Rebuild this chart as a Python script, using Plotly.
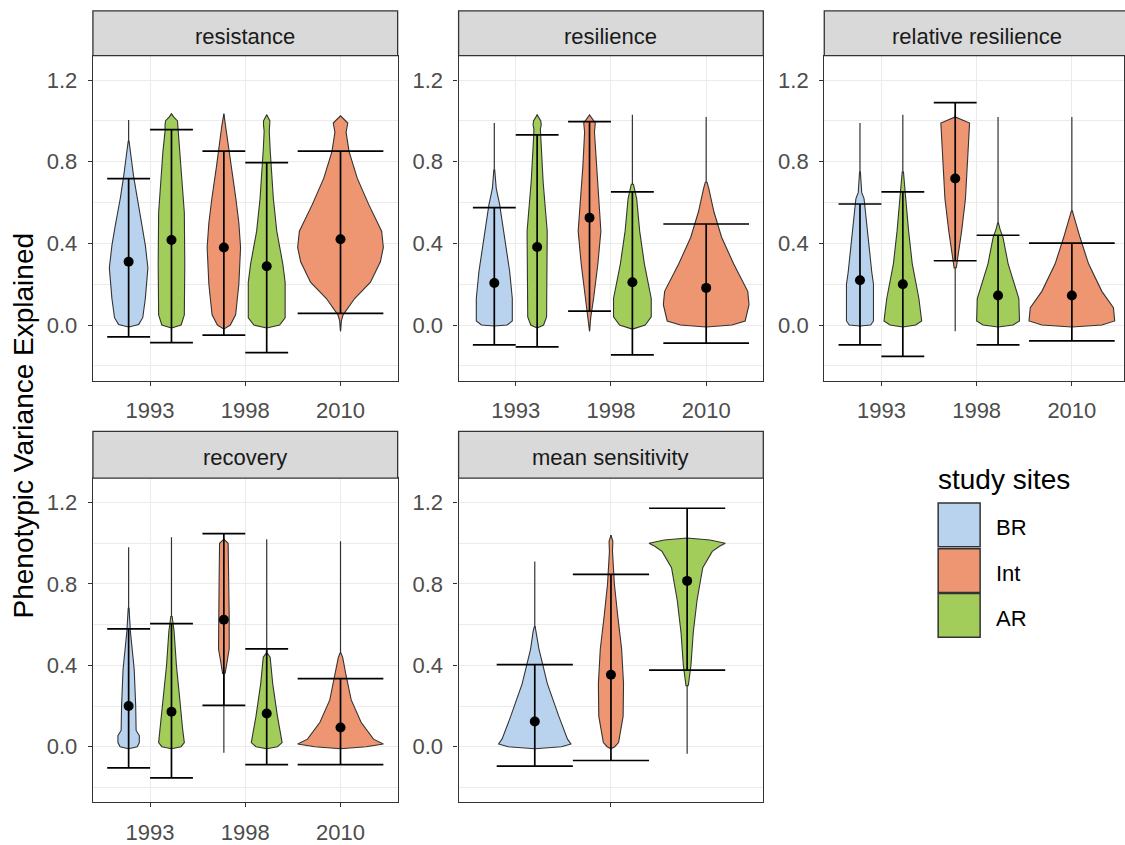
import plotly.graph_objects as go

W, H = 1125, 845

SITE_COLORS = {"BR": "#B9D3EE", "Int": "#EE9572", "AR": "#A2CD5A"}
SITE_ORDER = ["BR", "Int", "AR"]
YEARS = ["1993", "1998", "2010"]
Y_TICKS = [0.0, 0.4, 0.8, 1.2]
Y_TICK_TEXT = ["0.0", "0.4", "0.8", "1.2"]
Y_MINOR = [-0.2, 0.2, 0.6, 1.0]

# ---------------- resistance ----------------
resistance_year = ["1993", "1993", "1998", "1998", "2010"]
resistance_site = ["BR", "AR", "Int", "AR", "Int"]
resistance_mean = [0.31, 0.417, 0.38, 0.288, 0.42]
resistance_lower = [-0.058, -0.086, -0.049, -0.135, 0.057]
resistance_upper = [0.717, 0.958, 0.852, 0.796, 0.852]
resistance_min = [-0.015, -0.015, -0.02, -0.015, -0.03]
resistance_max = [1.005, 1.035, 1.035, 1.03, 1.025]
resistance_levels = [
    [-0.01, 0.003, 0.036, 0.13, 0.28, 0.39, 0.49, 0.62, 0.73, 0.82, 0.87, 0.9],
    [-0.015, 0.0, 0.05, 0.3, 0.55, 0.7, 0.85, 0.95, 0.98, 1.0, 1.02, 1.035],
    [-0.02, 0.0, 0.05, 0.2, 0.38, 0.5, 0.62, 0.78, 0.91, 0.98, 1.035],
    [-0.015, 0.0, 0.035, 0.21, 0.3, 0.46, 0.62, 0.75, 0.86, 0.95, 0.98, 1.0, 1.03],
    [-0.03, 0.02, 0.05, 0.13, 0.21, 0.31, 0.38, 0.46, 0.59, 0.72, 0.85, 0.945, 0.99, 1.025],
]
resistance_density = [
    [0, 0.47, 0.66, 0.78, 0.9, 0.78, 0.62, 0.39, 0.23, 0.12, 0.05, 0.02],
    [0, 0.45, 0.6, 0.62, 0.6, 0.5, 0.4, 0.3, 0.3, 0.28, 0.1, 0],
    [0, 0.3, 0.55, 0.7, 0.78, 0.7, 0.56, 0.34, 0.19, 0.09, 0],
    [0, 0.6, 0.86, 0.86, 0.75, 0.47, 0.31, 0.22, 0.16, 0.12, 0.15, 0.15, 0],
    [0, 0.02, 0.06, 0.33, 0.7, 0.93, 1.0, 0.96, 0.66, 0.39, 0.2, 0.13, 0.17, 0],
]

# ---------------- resilience ----------------
resilience_year = ["1993", "1993", "1998", "1998", "2010"]
resilience_site = ["BR", "AR", "Int", "AR", "Int"]
resilience_mean = [0.206, 0.382, 0.526, 0.21, 0.182]
resilience_lower = [-0.097, -0.107, 0.068, -0.146, -0.089]
resilience_upper = [0.575, 0.932, 0.997, 0.653, 0.495]
resilience_min = [-0.01, -0.015, -0.03, -0.02, -0.01]
resilience_max = [0.99, 1.03, 1.03, 1.03, 1.02]
resilience_levels = [
    [-0.005, 0.0, 0.02, 0.13, 0.26, 0.46, 0.59, 0.67, 0.76],
    [-0.015, 0.0, 0.04, 0.46, 0.7, 0.91, 0.96, 0.98, 1.0, 1.03],
    [-0.03, 0.04, 0.13, 0.30, 0.46, 0.59, 0.78, 0.945, 0.99, 1.03],
    [-0.02, 0.0, 0.04, 0.13, 0.30, 0.46, 0.62, 0.69],
    [-0.01, 0.0, 0.02, 0.1, 0.165, 0.30, 0.43, 0.555, 0.67, 0.7],
]
resilience_density = [
    [0, 0.6, 0.84, 0.84, 0.72, 0.44, 0.25, 0.09, 0.02],
    [0, 0.3, 0.44, 0.47, 0.28, 0.17, 0.15, 0.19, 0.17, 0],
    [0, 0.06, 0.19, 0.39, 0.53, 0.44, 0.31, 0.23, 0.27, 0],
    [0, 0.6, 0.88, 0.88, 0.56, 0.34, 0.2, 0.05],
    [0, 0.6, 0.91, 1.0, 0.97, 0.64, 0.36, 0.18, 0.06, 0.02],
]

# ---------------- relative resilience ----------------
relres_year = ["1993", "1993", "1998", "1998", "2010"]
relres_site = ["BR", "AR", "Int", "AR", "Int"]
relres_mean = [0.219, 0.2, 0.718, 0.145, 0.145]
relres_lower = [-0.097, -0.154, 0.315, -0.097, -0.078]
relres_upper = [0.593, 0.653, 1.09, 0.44, 0.401]
relres_min = [-0.01, -0.01, -0.03, -0.01, -0.01]
relres_max = [0.99, 1.03, 1.03, 1.02, 1.02]
relres_levels = [
    [-0.005, 0.0, 0.02, 0.2, 0.26, 0.46, 0.62, 0.65, 0.75],
    [-0.01, 0.0, 0.02, 0.13, 0.30, 0.46, 0.65, 0.75],
    [0.28, 0.36, 0.46, 0.62, 0.78, 0.91, 0.99, 1.02],
    [-0.01, 0.0, 0.02, 0.13, 0.30, 0.43, 0.47, 0.5],
    [-0.01, 0.0, 0.02, 0.085, 0.165, 0.30, 0.43, 0.52, 0.56],
]
relres_density = [
    [0, 0.5, 0.63, 0.63, 0.55, 0.34, 0.19, 0.08, 0.02],
    [0, 0.6, 0.88, 0.75, 0.44, 0.27, 0.11, 0.03],
    [0.05, 0.17, 0.3, 0.48, 0.58, 0.63, 0.67, 0],
    [0, 0.7, 1.0, 0.97, 0.47, 0.23, 0.09, 0.02],
    [0, 0.7, 1.0, 0.97, 0.7, 0.39, 0.19, 0.06, 0.01],
]

# ---------------- recovery ----------------
recovery_year = ["1993", "1993", "1998", "1998", "2010"]
recovery_site = ["BR", "AR", "Int", "AR", "Int"]
recovery_mean = [0.2, 0.172, 0.624, 0.163, 0.094]
recovery_lower = [-0.104, -0.153, 0.203, -0.088, -0.088]
recovery_upper = [0.579, 0.605, 1.047, 0.481, 0.335]
recovery_min = [-0.01, -0.01, -0.03, -0.01, -0.01]
recovery_max = [0.98, 1.03, 1.02, 1.02, 1.01]
recovery_levels = [
    [-0.01, 0.0, 0.02, 0.054, 0.08, 0.2, 0.38, 0.48, 0.57, 0.68],
    [-0.01, 0.0, 0.02, 0.086, 0.23, 0.4, 0.57, 0.64],
    [0.36, 0.42, 0.48, 0.64, 0.83, 1.0, 1.02],
    [-0.01, 0.0, 0.02, 0.15, 0.31, 0.44, 0.46],
    [-0.01, 0.0, 0.013, 0.037, 0.12, 0.23, 0.35, 0.44, 0.46],
]
recovery_density = [
    [0, 0.4, 0.5, 0.5, 0.35, 0.33, 0.26, 0.16, 0.08, 0.02],
    [0, 0.45, 0.6, 0.52, 0.39, 0.23, 0.12, 0.03],
    [0.06, 0.15, 0.25, 0.25, 0.22, 0.2, 0],
    [0, 0.5, 0.72, 0.5, 0.28, 0.16, 0.02],
    [0, 0.6, 1.0, 0.77, 0.48, 0.25, 0.13, 0.05, 0.01],
]

# ---------------- mean sensitivity ----------------
meansens_year = ["", "", ""]
meansens_site = ["BR", "Int", "AR"]
meansens_mean = [0.124, 0.354, 0.815]
meansens_lower = [-0.096, -0.068, 0.376]
meansens_upper = [0.403, 0.847, 1.172]
meansens_min = [-0.01, -0.01, -0.035]
meansens_max = [0.91, 1.04, 1.026]
meansens_levels = [
    [-0.01, 0.0, 0.013, 0.037, 0.15, 0.31, 0.48, 0.57, 0.59],
    [-0.01, 0.0, 0.02, 0.15, 0.31, 0.48, 0.64, 0.8, 0.96, 1.01, 1.04],
    [0.3, 0.4, 0.56, 0.72, 0.88, 0.96, 0.985, 1.0, 1.016, 1.026],
]
meansens_density = [
    [0, 0.7, 0.95, 0.86, 0.63, 0.33, 0.11, 0.04, 0.01],
    [0, 0.1, 0.2, 0.32, 0.33, 0.28, 0.18, 0.09, 0.04, 0.05, 0],
    [0.03, 0.1, 0.16, 0.26, 0.41, 0.66, 0.85, 1.0, 0.6, 0],
]

panels = [
    ("resistance", resistance_year, resistance_site, resistance_mean, resistance_lower,
     resistance_upper, resistance_min, resistance_max, resistance_levels, resistance_density, YEARS),
    ("resilience", resilience_year, resilience_site, resilience_mean, resilience_lower,
     resilience_upper, resilience_min, resilience_max, resilience_levels, resilience_density, YEARS),
    ("relative resilience", relres_year, relres_site, relres_mean, relres_lower,
     relres_upper, relres_min, relres_max, relres_levels, relres_density, YEARS),
    ("recovery", recovery_year, recovery_site, recovery_mean, recovery_lower,
     recovery_upper, recovery_min, recovery_max, recovery_levels, recovery_density, YEARS),
    ("mean sensitivity", meansens_year, meansens_site, meansens_mean, meansens_lower,
     meansens_upper, meansens_min, meansens_max, meansens_levels, meansens_density, [""]),
]

# ---------------- layout geometry (pixels) ----------------
COLS_PX = [(93, 398), (459, 764), (825, 1130)]
ROWS_PX = [(56, 383), (481, 807)]
STRIPS_PX = [(11, 56), (434, 481)]
Y_RANGE = [-0.273, 1.32]
DODGE = 0.9
FONT = "Liberation Sans, Arial, sans-serif"


def fx(p):
    return p / W


def fy(p):
    return 1 - p / H


fig = go.Figure()
layout_axes = {}
shapes = []
annotations = []

AXIS_COMMON = dict(
    showline=True, mirror=True, linecolor="#333333", linewidth=1.3,
    ticks="outside", ticklen=4, tickwidth=1.1, tickcolor="#333333",
    tickfont=dict(family=FONT, size=22, color="#4D4D4D"),
    zeroline=False, showgrid=True, gridcolor="#EBEBEB", gridwidth=1.3,
    fixedrange=True,
)

for i, (title, years, sites, means, lows, ups, mins, maxs, levels, dens, cats) in enumerate(panels):
    row, col = divmod(i, 3)
    x0p, x1p = COLS_PX[col]
    y0p, y1p = ROWS_PX[row]
    ncat = len(cats)
    px_per_unit = (x1p - x0p) / (ncat - 1 + 1.2)
    xr0 = 0.4
    x1_clip = min(x1p, W)
    xr1 = xr0 + (x1_clip - x0p) / px_per_unit
    idx = "" if i == 0 else str(i + 1)
    xa, ya = "x" + idx, "y" + idx

    layout_axes["xaxis" + idx] = dict(
        AXIS_COMMON, domain=[fx(x0p), fx(x1_clip)], range=[xr0, xr1], anchor=ya,
        tickvals=list(range(1, ncat + 1)), ticktext=cats, ticklabelstandoff=6,
    )
    layout_axes["yaxis" + idx] = dict(
        AXIS_COMMON, domain=[fy(y1p), fy(y0p)], range=Y_RANGE, anchor=xa,
        tickvals=Y_TICKS, ticktext=Y_TICK_TEXT, ticklabelstandoff=6,
        minor=dict(tickvals=Y_MINOR, showgrid=True, gridcolor="#EBEBEB", gridwidth=0.7, ticks=""),
    )

    # facet strip
    sy0, sy1 = STRIPS_PX[row]
    shapes.append(dict(type="rect", xref="paper", yref="paper",
                       x0=fx(x0p), x1=fx(x1p), y0=fy(sy1), y1=fy(sy0),
                       fillcolor="#D9D9D9", line=dict(color="#333333", width=1.3), layer="above"))
    annotations.append(dict(text=title, xref="paper", yref="paper",
                            x=fx((x0p + x1p) / 2), y=fy((sy0 + sy1) / 2 + 3), showarrow=False,
                            xanchor="center", yanchor="middle",
                            font=dict(family=FONT, size=22, color="#1A1A1A")))

    # dodge positions of the site groups within each category
    cat_of = [cats.index(y) + 1 for y in years]
    for g in range(len(sites)):
        members = [k for k in range(len(sites)) if years[k] == years[g]]
        n = len(members)
        slot = DODGE / n
        offset = (members.index(g) - (n - 1) / 2) * slot
        cx = cat_of[g] + offset
        half = slot / 2
        color = SITE_COLORS[sites[g]]

        # full data range (thin tails of the violin)
        fig.add_trace(go.Scatter(x=[cx, cx], y=[mins[g], maxs[g]], mode="lines",
                                 line=dict(color="#333333", width=1.2),
                                 xaxis=xa, yaxis=ya, showlegend=False, hoverinfo="skip"))
        # violin outline
        lv, dv = levels[g], dens[g]
        vx = [cx + d * half for d in dv] + [cx - d * half for d in reversed(dv)]
        vy = list(lv) + list(reversed(lv))
        fig.add_trace(go.Scatter(x=vx + [vx[0]], y=vy + [vy[0]], mode="lines", fill="toself",
                                 fillcolor=color, line=dict(color="#333333", width=1.1),
                                 xaxis=xa, yaxis=ya, showlegend=False, name=sites[g],
                                 hoverinfo="skip"))
        # error bar
        ex = [cx, cx, None, cx - half, cx + half, None, cx - half, cx + half]
        ey = [lows[g], ups[g], None, lows[g], lows[g], None, ups[g], ups[g]]
        fig.add_trace(go.Scatter(x=ex, y=ey, mode="lines", line=dict(color="black", width=1.7),
                                 xaxis=xa, yaxis=ya, showlegend=False, hoverinfo="skip"))
        # mean
        fig.add_trace(go.Scatter(x=[cx], y=[means[g]], mode="markers",
                                 marker=dict(color="black", size=10),
                                 xaxis=xa, yaxis=ya, showlegend=False,
                                 hovertemplate=f"{title} {years[g]} {sites[g]}: %{{y:.2f}}<extra></extra>"))

# y-axis title
annotations.append(dict(text="Phenotypic Variance Explained", xref="paper", yref="paper",
                        x=fx(23), y=fy(428), textangle=-90, showarrow=False,
                        xanchor="center", yanchor="middle",
                        font=dict(family=FONT, size=28, color="black")))

# legend
annotations.append(dict(text="study sites", xref="paper", yref="paper",
                        x=fx(937), y=fy(482), showarrow=False, xanchor="left", yanchor="middle",
                        font=dict(family=FONT, size=28, color="black")))
key_tops = [506, 552, 597]
for site, top in zip(SITE_ORDER, key_tops):
    shapes.append(dict(type="rect", xref="paper", yref="paper",
                       x0=fx(939), x1=fx(981), y0=fy(top + 44), y1=fy(top),
                       fillcolor=SITE_COLORS[site], line=dict(color="#333333", width=1.5)))
    annotations.append(dict(text=site, xref="paper", yref="paper",
                            x=fx(995), y=fy(top + 25), showarrow=False,
                            xanchor="left", yanchor="middle",
                            font=dict(family=FONT, size=22, color="black")))

fig.update_layout(
    width=W, height=H, margin=dict(l=0, r=0, t=0, b=0),
    paper_bgcolor="white", plot_bgcolor="white",
    showlegend=False, shapes=shapes, annotations=annotations,
    **layout_axes,
)

fig.write_html("out.html")
